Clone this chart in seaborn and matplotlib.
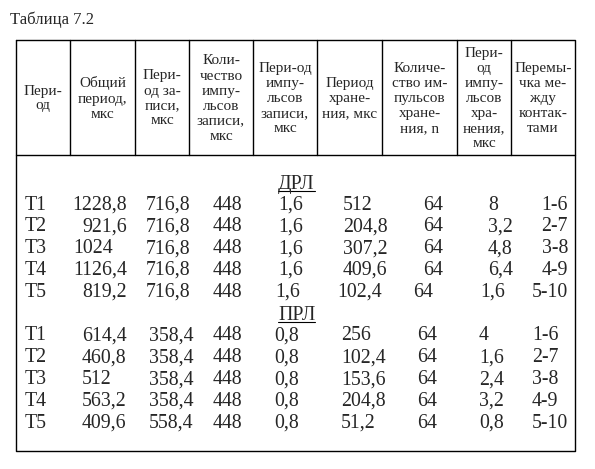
"""
Таблица 7.2 - periods of write / storage for DRL and PRL modes.
Rendered as a plain table figure (Word-style layout).
"""

import matplotlib.pyplot as plt
import seaborn as sns

sns.set_theme(style="white")
plt.rcParams["font.family"] = ["Liberation Serif", "DejaVu Serif"]

title = "Таблица 7.2"
headers = [
    "Пери-\nод",
    "Общий\nпериод,\nмкс",
    "Пери-\nод за-\nписи,\nмкс",
    "Коли-\nчество\nимпу-\nльсов\nзаписи,\nмкс",
    "Пери-од\nимпу-\nльсов\nзаписи,\nмкс",
    "Период\nхране-\nния, мкс",
    "Количе-\nство им-\nпульсов\nхране-\nния, n",
    "Пери-\nод\nимпу-\nльсов\nхра-\nнения,\nмкс",
    "Перемы-\nчка ме-\nжду\nконтак-\nтами",
]
periods = ["Т1", "Т2", "Т3", "Т4", "Т5"]
jumpers = ["1-6", "2-7", "3-8", "4-9", "5-10"]

# ДРЛ
drl_total = [1228.8, 921.6, 1024, 1126.4, 819.2]
drl_write = [716.8, 716.8, 716.8, 716.8, 716.8]
drl_write_pulses = [448, 448, 448, 448, 448]
drl_write_pulse_period = [1.6, 1.6, 1.6, 1.6, 1.6]
drl_store = [512, 204.8, 307.2, 409.6, 102.4]
drl_store_pulses = [64, 64, 64, 64, 64]
drl_store_pulse_period = [8, 3.2, 4.8, 6.4, 1.6]

# ПРЛ
prl_total = [614.4, 460.8, 512, 563.2, 409.6]
prl_write = [358.4, 358.4, 358.4, 358.4, 558.4]
prl_write_pulses = [448, 448, 448, 448, 448]
prl_write_pulse_period = [0.8, 0.8, 0.8, 0.8, 0.8]
prl_store = [256, 102.4, 153.6, 204.8, 51.2]
prl_store_pulses = [64, 64, 64, 64, 64]
prl_store_pulse_period = [4, 1.6, 2.4, 3.2, 0.8]

groups = [
    ("ДРЛ", [periods, drl_total, drl_write, drl_write_pulses, drl_write_pulse_period,
             drl_store, drl_store_pulses, drl_store_pulse_period, jumpers]),
    ("ПРЛ", [periods, prl_total, prl_write, prl_write_pulses, prl_write_pulse_period,
             prl_store, prl_store_pulses, prl_store_pulse_period, jumpers]),
]

# layout (pixels)
left, right, top, bottom, head_bottom = 16, 575, 40, 451, 155
col_edges = [left, 70, 135, 189, 253, 317, 382, 457, 511, right]
# per group: (x, ha) for each column, like the tab stops of the original
col_anchor = {
    "ДРЛ": [(25, "left"), (127, "right"), (146, "left"), (213, "left"), (278, "left"),
            (343, "left"), (423, "left"), (488, "left"), (568, "right")],
    "ПРЛ": [(25, "left"), (82, "left"), (149, "left"), (213, "left"), (274, "left"),
            (341, "left"), (417, "left"), (479, "left"), (532, "left")],
}
# cells typed with different spacing in the original: (group, col, row) -> (x, ha)
cell_anchor = {
    ("ДРЛ", 1, 2): (73, "left"),
    ("ДРЛ", 4, 4): (275, "left"),
    ("ДРЛ", 5, 4): (337, "left"),
    ("ДРЛ", 6, 4): (413, "left"),
    ("ДРЛ", 7, 4): (480, "left"),
}
group_y = {"ДРЛ": 184, "ПРЛ": 315}
row_y0 = {"ДРЛ": 205, "ПРЛ": 336}
row_step = 21.8
body_size = 14.3


def fmt(v):
    if isinstance(v, str):
        return v
    return f"{v:g}".replace(".", ",")


fig = plt.figure(figsize=(5.95, 4.69), dpi=100)
ax = fig.add_axes([0, 0, 1, 1])
ax.set_xlim(0, 595)
ax.set_ylim(469, 0)
ax.axis("off")

lw = 1.0
ax.plot([left, right, right, left, left], [top, top, bottom, bottom, top], color="black", lw=lw)
ax.plot([left, right], [head_bottom, head_bottom], color="black", lw=lw)
for x in col_edges[1:-1]:
    ax.plot([x, x], [top, head_bottom], color="black", lw=lw)

ax.text(10, 20, title, fontsize=12, ha="left", va="center")

for i, h in enumerate(headers):
    xc = (col_edges[i] + col_edges[i + 1]) / 2
    ax.text(xc, (top + head_bottom) / 2 + 1, h, fontsize=11, ha="center", va="center",
            multialignment="center", linespacing=1.2)

for name, cols in groups:
    gy = group_y[name]
    ax.text(278, gy, name, fontsize=body_size, ha="left", va="center")
    ax.plot([278, 315], [gy + 7.5, gy + 7.5], color="black", lw=0.8)
    for c, values in enumerate(cols):
        for r, v in enumerate(values):
            x, ha = cell_anchor.get((name, c, r), col_anchor[name][c])
            ax.text(x, row_y0[name] + r * row_step, fmt(v), fontsize=body_size,
                    ha=ha, va="center")

fig.savefig("out.png", dpi=100)
plt.close(fig)
